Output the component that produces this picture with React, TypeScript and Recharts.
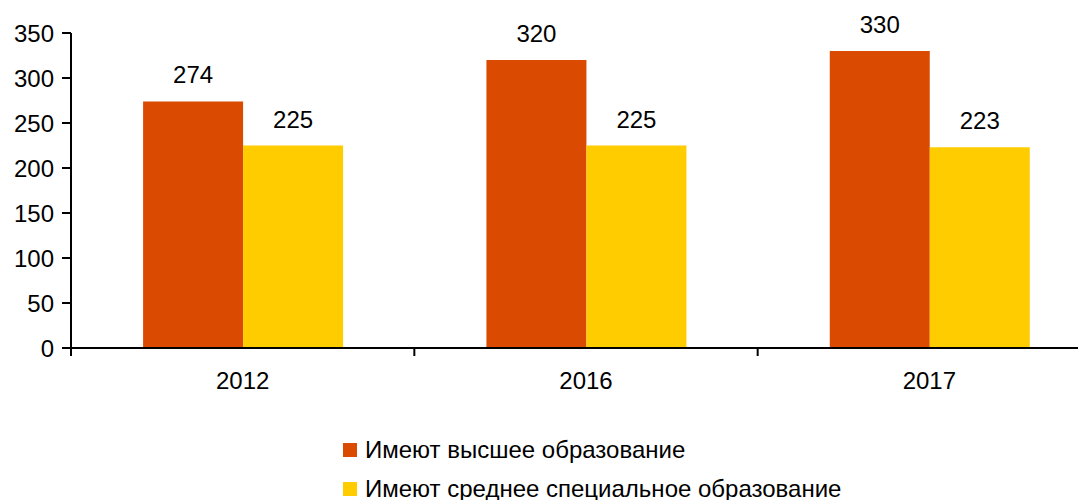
import { Bar, BarChart, LabelList, Legend, XAxis, YAxis } from "recharts";

const years = ["2012", "2016", "2017"];
const higherEdu = [274, 320, 330];
const specialEdu = [225, 225, 223];
const yTicks = [0, 50, 100, 150, 200, 250, 300, 350];

const seriesNames = [
	"Имеют высшее образование",
	"Имеют среднее специальное образование",
];

const data = years.map((year, i) => ({
	year,
	higher: higherEdu[i],
	special: specialEdu[i],
}));

// Excel style: tick marks sit between categories, label in the middle
const CategoryTick = ({ x, y, payload }: any) => {
	const half = payload.offset || 0;
	return (
		<g>
			<line
				x1={x - half}
				x2={x - half}
				y1={y}
				y2={y + 8}
				stroke="#000"
				strokeWidth={2}
			/>
			<text x={x} y={y + 41} textAnchor="middle" fill="#000" fontSize={24}>
				{payload.value}
			</text>
		</g>
	);
};

const LegendContent = ({ payload }: any) => (
	<div style={{ height: 78 }}>
		{(payload || []).map((entry: any) => (
			<div
				key={entry.value}
				style={{
					display: "flex",
					alignItems: "center",
					height: 39,
					fontSize: 24,
					color: "#000",
					whiteSpace: "nowrap",
				}}
			>
				<span
					style={{
						display: "inline-block",
						width: 14,
						height: 14,
						background: entry.color,
						marginRight: 8,
					}}
				/>
				{entry.value}
			</div>
		))}
	</div>
);

export default function App() {
	return (
		<div
			style={{
				width: 1078,
				height: 492,
				overflow: "hidden",
				fontFamily: "'Liberation Sans', Arial, sans-serif",
			}}
		>
			<BarChart
				width={1100}
				height={492}
				data={data}
				margin={{ top: 25, right: 7, left: 0, bottom: 14 }}
				barCategoryGap="21%"
				barGap={0}
			>
				<XAxis
					dataKey="year"
					axisLine={{ stroke: "#000", strokeWidth: 2 }}
					tickLine={false}
					tickSize={0}
					tickMargin={0}
					tick={<CategoryTick />}
					interval={0}
					height={60}
				/>
				<YAxis
					domain={[0, 350]}
					ticks={yTicks}
					width={63}
					axisLine={{ stroke: "#000", strokeWidth: 2 }}
					tickLine={{ stroke: "#000", strokeWidth: 2 }}
					tickSize={9}
					tickMargin={8}
					tick={{ fill: "#000", fontSize: 24 }}
				/>
				<Legend
					layout="vertical"
					verticalAlign="bottom"
					align="center"
					content={LegendContent}
					wrapperStyle={{ left: 335, top: 422, width: "auto" }}
				/>
				<Bar
					dataKey="higher"
					name={seriesNames[0]}
					fill="#DA4A00"
					isAnimationActive={false}
				>
					<LabelList
						dataKey="higher"
						position="top"
						offset={18}
						fill="#000"
						fontSize={24}
					/>
				</Bar>
				<Bar
					dataKey="special"
					name={seriesNames[1]}
					fill="#FFCC00"
					isAnimationActive={false}
				>
					<LabelList
						dataKey="special"
						position="top"
						offset={18}
						fill="#000"
						fontSize={24}
					/>
				</Bar>
			</BarChart>
		</div>
	);
}
